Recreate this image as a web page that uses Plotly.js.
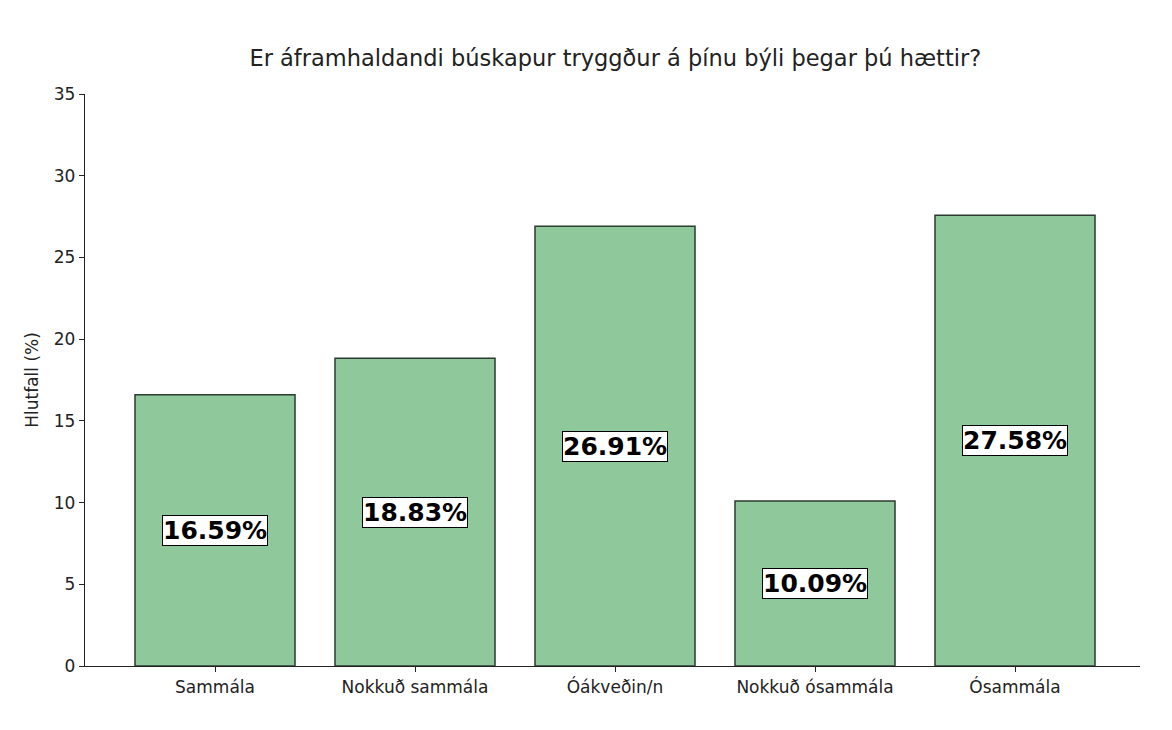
<!DOCTYPE html>
<html><head><meta charset="utf-8">
<script src="https://cdn.plot.ly/plotly-3.0.1.min.js"></script>
<style>body{margin:0;background:#fff}#c{width:1172px;height:730px}</style>
</head><body><div id="c"></div>
<script>
const categories = ["Sammála", "Nokkuð sammála", "Óákveðin/n", "Nokkuð ósammála", "Ósammála"];
const values = [16.59, 18.83, 26.91, 10.09, 27.58];
const yTicks = [0, 5, 10, 15, 20, 25, 30, 35];
const titleText = "Er áframhaldandi búskapur tryggður á þínu býli þegar þú hættir?";
const yTitle = "Hlutfall (%)";

const font = "DejaVu Sans, sans-serif";
const trace = {
  type: "bar", x: categories, y: values, width: 0.8,
  marker: {color: "#8fc89a", line: {color: "#2b3b2f", width: 1.5}},
  hoverinfo: "skip"
};
const annotations = categories.map((c, i) => ({
  x: c, y: values[i] / 2, xref: "x", yref: "y",
  text: "<b>" + values[i].toFixed(2) + "%</b>", showarrow: false,
  font: {family: font, size: 25, color: "#000"},
  bgcolor: "#fff", bordercolor: "#000", borderwidth: 1, borderpad: 0
}));
const layout = {
  width: 1172, height: 730,
  margin: {l: 85, r: 32, t: 94, b: 64},
  paper_bgcolor: "#fff", plot_bgcolor: "#fff",
  font: {family: font, size: 17, color: "#222"},
  title: {text: titleText, x: 0.525, xanchor: "center", y: 0.92, yanchor: "middle",
          font: {family: font, size: 22.5, color: "#222"}},
  xaxis: {range: [-0.65, 4.625], showline: true, linecolor: "#222", linewidth: 1.2,
          ticks: "outside", ticklen: 5, tickcolor: "#222", showgrid: false, zeroline: false,
          tickfont: {size: 17, family: font, color: "#222"}},
  yaxis: {range: [0, 35], tickvals: yTicks, showline: true, linecolor: "#222", linewidth: 1.2,
          ticks: "outside", ticklen: 5, tickcolor: "#222", showgrid: false, zeroline: false,
          tickfont: {size: 17, family: font, color: "#222"},
          title: {text: yTitle, font: {size: 17, family: font, color: "#222"}, standoff: 10}},
  annotations: annotations, showlegend: false, bargap: 0.2
};
Plotly.newPlot("c", [trace], layout, {displayModeBar: false, staticPlot: true});
</script></body></html>
